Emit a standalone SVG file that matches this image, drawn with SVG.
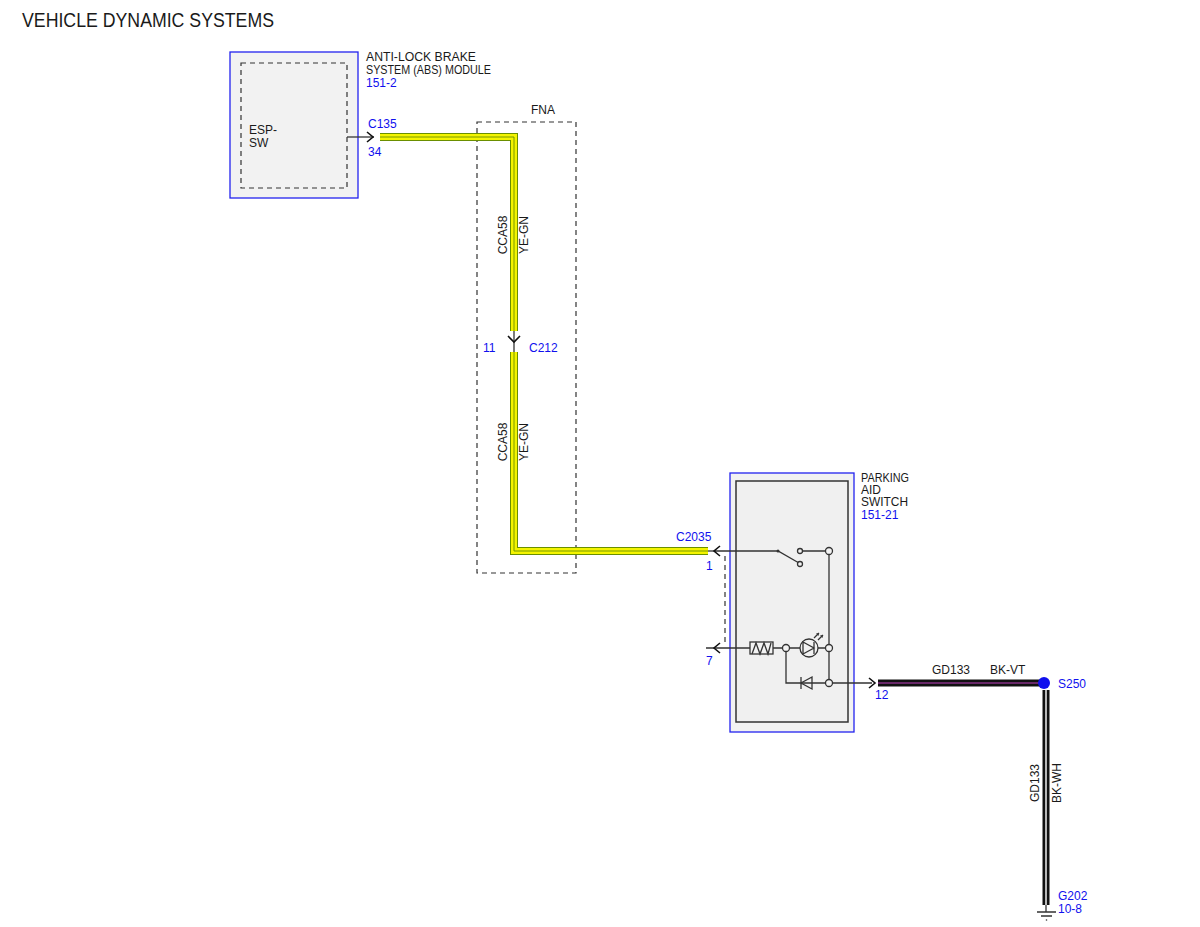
<svg xmlns="http://www.w3.org/2000/svg" width="1200" height="927" viewBox="0 0 1200 927">
<style>
text{font-family:"Liberation Sans",Arial,sans-serif;font-size:12px;fill:#1a1a1a}
.b{fill:#1010ee}
.t{font-size:20px}
.mod{fill:#f2f2f2;stroke:#2222ee;stroke-width:1.3}
.dash{fill:none;stroke:#333;stroke-width:1.2;stroke-dasharray:5,4}
.ln{fill:none;stroke:#333;stroke-width:1.3}
.nd{fill:#f2f2f2;stroke:#333;stroke-width:1.3}
.yo{fill:none;stroke:#6a8f00;stroke-width:8}
.yi{fill:none;stroke:#f4f400;stroke-width:6}
.yc{fill:none;stroke:#6a8f00;stroke-width:0.9}
.ko{fill:none;stroke:#111;stroke-width:7}
.kv{fill:none;stroke:#c040c0;stroke-width:1.2}
.kw{fill:none;stroke:#fff;stroke-width:1.4}
.arr{fill:none;stroke:#111;stroke-width:1.6}
</style>
<text class="t" x="22" y="27" textLength="252" lengthAdjust="spacingAndGlyphs">VEHICLE DYNAMIC SYSTEMS</text>

<g id="abs-module">
<rect class="mod" x="230" y="52" width="128" height="146"/>
<rect class="dash" x="241" y="63" width="106" height="125" fill="#f0f0f0"/>
<text x="249" y="134">ESP-</text>
<text x="249" y="147">SW</text>
<text x="366" y="61" textLength="110" lengthAdjust="spacingAndGlyphs">ANTI-LOCK BRAKE</text>
<text x="366" y="74" textLength="125" lengthAdjust="spacingAndGlyphs">SYSTEM (ABS) MODULE</text>
<text class="b" x="366" y="87">151-2</text>
</g>

<g id="fna">
<rect class="dash" x="477" y="122" width="99" height="451"/>
<text x="531" y="114">FNA</text>
</g>

<g id="parking-aid-switch">
<rect class="mod" x="730" y="473" width="124" height="259"/>
<rect x="736" y="481" width="112" height="241" fill="#f0f0f0" stroke="#333" stroke-width="1.5"/>
<text x="861" y="482" textLength="48" lengthAdjust="spacingAndGlyphs">PARKING</text>
<text x="861" y="494">AID</text>
<text x="861" y="506" textLength="47" lengthAdjust="spacingAndGlyphs">SWITCH</text>
<text class="b" x="861" y="519">151-21</text>
<path class="ln" d="M714 551H778L799 563"/>
<circle cx="778" cy="551" r="1.5" fill="#333"/>
<circle class="nd" cx="800" cy="551" r="2.5"/>
<circle class="nd" cx="800" cy="564" r="2.5"/>
<path class="ln" d="M802.5 551H826M829 554.5V644.5M829 651.5V679.5"/>
<circle class="nd" cx="829" cy="551" r="3.5"/>
<path class="dash" d="M725 556V646"/>
<path class="ln" d="M706 648H750M773 648H782.5M789.5 648H800M818 648H825.5"/>
<rect class="nd" x="750" y="642" width="23" height="12"/>
<path class="ln" d="M752 654L756 643L760 654L764 643L768 654L771 643"/>
<circle class="nd" cx="786" cy="648" r="3.5"/>
<circle cx="809" cy="648" r="9" fill="#f2f2f2" stroke="#333" stroke-width="1.3"/>
<path class="ln" d="M803 642L814 648L803 654ZM814 642V654"/>
<path class="ln" d="M814 638L819 633M818 640L823 635"/>
<path d="M819 633l-3 0.5l2.5 2.5z M823 635l-3 0.5l2.5 2.5z" fill="#333"/>
<circle class="nd" cx="829" cy="648" r="3.5"/>
<path class="ln" d="M786 651.5V683H825.5M832.5 683H872"/>
<path class="ln" d="M812 677L801 683L812 689ZM801 677V689" fill="#f2f2f2"/>
<circle class="nd" cx="829" cy="683" r="3.5"/>
</g>

<g id="connectors">
<path class="ln" d="M347 137H374"/>
<path class="arr" d="M367 132L373 137L367 142"/>
<text class="b" x="368" y="128">C135</text>
<text class="b" x="368" y="156">34</text>
<path class="yo" d="M380 137H514V331"/>
<path class="yi" d="M380 137H514V331"/>
<path class="yc" d="M380 137H514V331"/>
<path class="yo" d="M514 352V551H708"/>
<path class="yi" d="M514 352V551H708"/>
<path class="yc" d="M514 352V551H708"/>
<path class="ln" d="M514 331V352"/>
<path class="arr" d="M508 336L514 342L520 336"/>
<text class="b" x="483" y="352">11</text>
<text class="b" x="529" y="352">C212</text>
<text transform="translate(507,235) rotate(-90)" text-anchor="middle">CCA58</text>
<text transform="translate(528,235) rotate(-90)" text-anchor="middle">YE-GN</text>
<text transform="translate(507,442) rotate(-90)" text-anchor="middle">CCA58</text>
<text transform="translate(528,442) rotate(-90)" text-anchor="middle">YE-GN</text>
<path class="ln" d="M708 551H716"/>
<path class="arr" d="M720 546L714 551L720 556"/>
<text class="b" x="676" y="541">C2035</text>
<text class="b" x="706" y="570">1</text>
<path class="arr" d="M720 643L714 648L720 653"/>
<text class="b" x="706" y="665">7</text>
<path class="arr" d="M869 678L875 683L869 688"/>
<text class="b" x="875" y="699">12</text>
<path class="ko" d="M878 683H1042"/>
<path class="kv" d="M878 683H1042"/>
<text x="932" y="674">GD133</text>
<text x="990" y="674">BK-VT</text>
<circle cx="1044" cy="683" r="6" fill="#1010ee"/>
<text class="b" x="1058" y="688">S250</text>
<path class="ko" d="M1046 690V905"/>
<path class="kw" d="M1046 690V905"/>
<text transform="translate(1039,783) rotate(-90)" text-anchor="middle">GD133</text>
<text transform="translate(1061,783) rotate(-90)" text-anchor="middle">BK-WH</text>
<path class="ln" d="M1046 905V912M1037 912H1056M1041 916H1052"/>
<circle cx="1046.5" cy="920" r="0.8" fill="#333"/>
<text class="b" x="1058" y="900">G202</text>
<text class="b" x="1058" y="913">10-8</text>
</g>
</svg>
